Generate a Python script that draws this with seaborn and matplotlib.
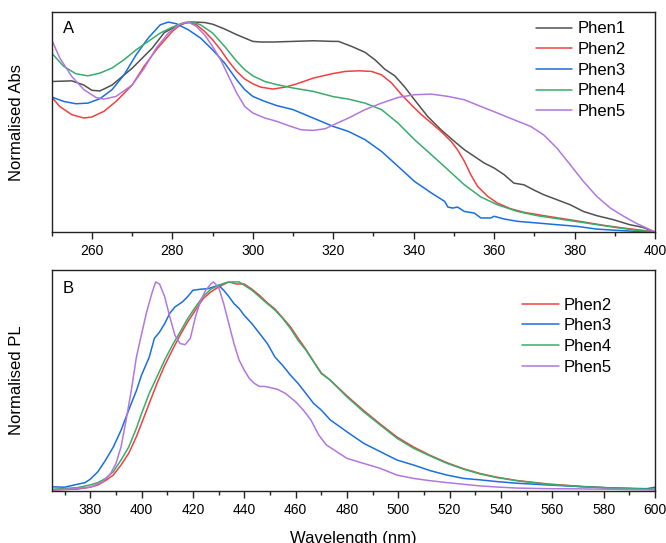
import numpy as np
import pandas as pd
import matplotlib
matplotlib.use("Agg")
import matplotlib.pyplot as plt
import seaborn as sns
from matplotlib.ticker import MultipleLocator

sns.set_style("ticks")
plt.rcParams['font.family'] = ['Liberation Sans', 'DejaVu Sans']

# --- absorption (top panel) ---
abs_wl1 = [250, 255, 258, 260, 262, 265, 270, 275, 278, 280, 283, 285, 288, 290, 293, 296, 299, 300,
           302, 305, 310, 315, 320, 321.3, 324.6, 327.9, 330.4, 332.8, 335.3, 337.8, 340.2, 343.5,
           346.8, 350.1, 352.6, 355.1, 357.5, 360, 362.5, 364.9, 367.4, 369.9, 372.3, 375.6, 378.9,
           382.2, 385.5, 389.6, 393.7, 397, 400]
abs_phen1 = [0.717, 0.72, 0.70, 0.675, 0.672, 0.70, 0.78, 0.876, 0.95, 0.97, 0.995, 1.0, 0.998, 0.99,
             0.967, 0.94, 0.916, 0.908, 0.905, 0.905, 0.908, 0.911, 0.908, 0.908, 0.884, 0.856, 0.82,
             0.776, 0.744, 0.69, 0.63, 0.55, 0.487, 0.432, 0.392, 0.36, 0.329, 0.305, 0.273, 0.233,
             0.225, 0.2, 0.178, 0.154, 0.13, 0.098, 0.078, 0.059, 0.035, 0.022, 0.0]

abs_wl2 = [250, 252, 255, 258, 260, 263, 266, 270, 273, 276, 280, 282, 284, 286, 288, 290, 292, 294,
           296, 298, 300, 302, 305, 308, 311, 315, 320, 323, 326.3, 329.5, 332, 334.5, 337, 339.4,
           341.9, 344.4, 346.8, 349.3, 350.9, 352.6, 354.2, 355.9, 358.4, 360.8, 364.1, 367.4, 372.3,
           377.3, 382.2, 387.2, 392.1, 397, 400]
abs_phen2 = [0.643, 0.598, 0.559, 0.543, 0.548, 0.575, 0.622, 0.70, 0.79, 0.868, 0.956, 0.987, 1.0,
             0.987, 0.956, 0.916, 0.868, 0.813, 0.765, 0.729, 0.706, 0.69, 0.681, 0.69, 0.706, 0.733,
             0.755, 0.765, 0.768, 0.765, 0.749, 0.71, 0.654, 0.606, 0.559, 0.519, 0.479, 0.432, 0.392,
             0.337, 0.273, 0.217, 0.17, 0.138, 0.111, 0.094, 0.078, 0.063, 0.048, 0.032, 0.019,
             0.008, 0.0]

abs_wl3 = [250, 253, 256, 259, 262, 265, 268, 271, 274, 277, 279, 281, 284, 287, 290, 293, 296, 298,
           300, 303, 306, 310, 313, 316, 320, 323.8, 327.9, 332, 336.1, 340.2, 344.4, 347.7, 348.5,
           349.7, 350.9, 352.6, 355.1, 356.7, 359.2, 360, 362.5, 365.8, 370.7, 375.6, 380.6, 385.5,
           390.5, 395.5, 400]
abs_phen3 = [0.643, 0.622, 0.611, 0.614, 0.635, 0.678, 0.749, 0.844, 0.924, 0.987, 1.0, 0.992, 0.963,
             0.924, 0.868, 0.805, 0.725, 0.678, 0.646, 0.622, 0.602, 0.583, 0.559, 0.535, 0.503,
             0.479, 0.44, 0.384, 0.313, 0.241, 0.186, 0.146, 0.119, 0.114, 0.119, 0.098, 0.09,
             0.067, 0.067, 0.075, 0.062, 0.051, 0.043, 0.035, 0.027, 0.014, 0.008, 0.003, 0.0]

abs_wl4 = [250, 253, 256, 259, 262, 265, 268, 271, 274, 277, 280, 283, 285, 287, 290, 293, 296, 298,
           300, 303, 306, 310, 315, 320, 323.8, 327.9, 332, 336.1, 340.2, 344.4, 348.5, 352.6, 356.7,
           360.8, 365.8, 370.7, 377.3, 383.9, 390.5, 395.5, 400]
abs_phen4 = [0.852, 0.789, 0.754, 0.744, 0.757, 0.781, 0.821, 0.868, 0.908, 0.948, 0.976, 0.998, 1.0,
             0.987, 0.948, 0.884, 0.813, 0.773, 0.744, 0.717, 0.702, 0.686, 0.67, 0.645, 0.633,
             0.614, 0.583, 0.519, 0.44, 0.368, 0.297, 0.225, 0.167, 0.13, 0.098, 0.078, 0.059, 0.04,
             0.021, 0.008, 0.0]

abs_wl5 = [250, 252, 255, 258, 261, 263, 266, 270, 273, 276, 279, 282, 284, 286, 288, 290, 292, 294,
           296, 298, 300, 303, 306, 309, 312, 315, 318, 320, 323.8, 327.9, 332, 336.1, 340.2, 344.4,
           348.5, 352.6, 356.7, 360.8, 364.9, 369.1, 372.3, 375.6, 378.9, 382.2, 385.5, 388.9, 392.2,
           395.5, 398.8, 400]
abs_phen5 = [0.916, 0.829, 0.741, 0.678, 0.641, 0.633, 0.646, 0.70, 0.78, 0.876, 0.948, 0.992, 1.0,
             0.979, 0.94, 0.884, 0.821, 0.741, 0.662, 0.598, 0.567, 0.543, 0.527, 0.506, 0.487,
             0.484, 0.492, 0.51, 0.543, 0.583, 0.614, 0.641, 0.654, 0.657, 0.646, 0.63, 0.598, 0.567,
             0.535, 0.503, 0.463, 0.40, 0.321, 0.241, 0.17, 0.114, 0.075, 0.04, 0.011, 0.0]

# --- photoluminescence (bottom panel) ---
pl_wl2 = [365, 375, 380, 383, 386, 389, 392, 395, 398, 400, 403, 406, 409, 412, 415, 418, 421, 424,
          427, 430, 434, 437, 440, 443, 446, 449, 452, 455, 458, 461, 464, 467, 470, 473.5, 480,
          486.5, 493, 499.5, 506, 512.5, 519, 525.5, 532, 538.4, 546.2, 557.9, 570.9, 583.9, 600]
pl_phen2 = [0.005, 0.009, 0.018, 0.029, 0.05, 0.076, 0.124, 0.18, 0.26, 0.323, 0.419, 0.514, 0.60,
            0.674, 0.745, 0.809, 0.865, 0.92, 0.952, 0.976, 1.0, 0.99, 0.99, 0.965, 0.935, 0.9,
            0.87, 0.828, 0.785, 0.73, 0.678, 0.62, 0.565, 0.53, 0.455, 0.385, 0.32, 0.258, 0.21,
            0.17, 0.135, 0.106, 0.083, 0.066, 0.05, 0.034, 0.022, 0.014, 0.008]

pl_wl3 = [365, 370, 375, 378, 380, 383, 386, 389, 392, 395, 398, 400, 403, 405, 407, 409, 411, 413,
          416, 418, 420, 423, 426, 428, 430, 432, 434, 436, 438, 440, 443, 446, 449, 452, 455, 458,
          461, 464, 467, 470, 473.5, 480, 486.5, 493, 499.5, 506, 512.5, 519, 525.5, 532, 538.4,
          546.2, 557.9, 570.9, 583.9, 596.8, 600]
pl_phen3 = [0.02, 0.018, 0.032, 0.04, 0.056, 0.092, 0.148, 0.21, 0.29, 0.387, 0.48, 0.554, 0.64,
            0.73, 0.76, 0.80, 0.85, 0.88, 0.905, 0.93, 0.96, 0.965, 0.968, 0.976, 0.984, 0.96,
            0.93, 0.896, 0.873, 0.84, 0.80, 0.753, 0.705, 0.64, 0.60, 0.554, 0.514, 0.467, 0.419,
            0.387, 0.34, 0.283, 0.228, 0.188, 0.148, 0.124, 0.097, 0.076, 0.06, 0.053, 0.045,
            0.037, 0.029, 0.021, 0.014, 0.011, 0.018]

pl_wl4 = [365, 375, 380, 383, 386, 389, 392, 395, 398, 400, 403, 406, 409, 412, 415, 418, 421, 424,
          427, 430, 433, 436, 438, 440, 443, 446, 449, 452, 455, 458, 461, 464, 467, 470, 473.5,
          480, 486.5, 493, 499.5, 506, 512.5, 519, 525.5, 532, 538.4, 546.2, 557.9, 570.9, 583.9, 600]
pl_phen4 = [0.008, 0.016, 0.029, 0.04, 0.06, 0.092, 0.148, 0.21, 0.30, 0.37, 0.467, 0.546, 0.626,
            0.697, 0.76, 0.825, 0.88, 0.93, 0.965, 0.984, 0.997, 1.0, 1.0, 0.984, 0.96, 0.928,
            0.896, 0.865, 0.825, 0.777, 0.72, 0.674, 0.618, 0.562, 0.53, 0.45, 0.379, 0.315,
            0.252, 0.204, 0.167, 0.132, 0.104, 0.081, 0.064, 0.049, 0.032, 0.021, 0.013, 0.008]

pl_wl5 = [365, 370, 380, 385, 388, 390, 392, 394, 396, 398, 400, 402, 404, 405.5, 407, 409, 411, 413,
          415, 417, 419, 421, 423, 425, 427, 428, 430, 432, 434, 436, 438, 440, 442, 444, 446, 448,
          450, 453, 456, 460, 463, 466, 469, 472, 475, 480, 486.5, 493, 499.5, 506, 512.5, 519,
          525.5, 532, 538.4, 546.2, 557.9, 570.9, 583.9, 600]
pl_phen5 = [0.005, 0.008, 0.018, 0.045, 0.084, 0.13, 0.21, 0.34, 0.48, 0.64, 0.75, 0.857, 0.944, 1.0,
            0.99, 0.93, 0.833, 0.745, 0.705, 0.70, 0.73, 0.833, 0.91, 0.96, 0.99, 1.0, 0.975, 0.896,
            0.80, 0.705, 0.626, 0.578, 0.538, 0.514, 0.50, 0.50, 0.495, 0.486, 0.467, 0.427, 0.387,
            0.339, 0.268, 0.22, 0.196, 0.156, 0.132, 0.108, 0.076, 0.06, 0.049, 0.04, 0.032, 0.024,
            0.019, 0.014, 0.011, 0.01, 0.008, 0.005]

names = ["Phen1", "Phen2", "Phen3", "Phen4", "Phen5"]
colors = {"Phen1": "#515151", "Phen2": "#F14040", "Phen3": "#1A6FDF",
          "Phen4": "#37AD6B", "Phen5": "#B177DE"}

abs_series = [(abs_wl1, abs_phen1), (abs_wl2, abs_phen2), (abs_wl3, abs_phen3),
              (abs_wl4, abs_phen4), (abs_wl5, abs_phen5)]
pl_series = [(pl_wl2, pl_phen2), (pl_wl3, pl_phen3), (pl_wl4, pl_phen4), (pl_wl5, pl_phen5)]

fig = plt.figure(figsize=(6.66, 5.43), dpi=100)
ax1 = fig.add_axes([0.0776, 0.5727, 0.9059, 0.4052])
ax2 = fig.add_axes([0.0776, 0.0958, 0.9059, 0.4070])

for name, (wl, val) in zip(names, abs_series):
    df = pd.DataFrame({"wl": wl, "val": val})
    sns.lineplot(data=df, x="wl", y="val", ax=ax1, color=colors[name], lw=1.1,
                 label=name, sort=False)

for name, (wl, val) in zip(names[1:], pl_series):
    df = pd.DataFrame({"wl": wl, "val": val})
    sns.lineplot(data=df, x="wl", y="val", ax=ax2, color=colors[name], lw=1.1,
                 label=name, sort=False)

ax1.set_xlim(250, 400)
ax1.set_ylim(0, 1.048)
ax2.set_xlim(365, 600)
ax2.set_ylim(0, 1.057)

for ax in (ax1, ax2):
    ax.xaxis.set_major_locator(MultipleLocator(20))
    ax.xaxis.set_minor_locator(MultipleLocator(10))
    ax.tick_params(axis="x", which="major", length=5, width=1, labelsize=10,
                   direction="out", labelcolor="black", color="#222222")
    ax.tick_params(axis="x", which="minor", length=3, width=1, direction="out", color="#222222")
    ax.set_yticks([])
    for s in ax.spines.values():
        s.set_linewidth(1.0)
        s.set_color("#222222")
    ax.set_xlabel("")

ax1.xaxis.set_major_locator(plt.FixedLocator([260, 280, 300, 320, 340, 360, 380, 400]))

ax1.set_ylabel("Normalised Abs", fontsize=12, labelpad=20, color="black")
ax2.set_ylabel("Normalised PL", fontsize=12, labelpad=20, color="black")
ax2.set_xlabel("Wavelength (nm)", fontsize=12, labelpad=10, color="black")

ax1.text(0.018, 0.96, "A", transform=ax1.transAxes, fontsize=12, va="top", ha="left",
         color="black")
ax2.text(0.018, 0.95, "B", transform=ax2.transAxes, fontsize=12, va="top", ha="left",
         color="black")

leg_kw = dict(loc="upper right", frameon=False, fontsize=12, handlelength=2.2,
              handletextpad=0.3, labelspacing=0.34, borderaxespad=0.2, labelcolor="black")
ax1.legend(bbox_to_anchor=(0.968, 1.003), **leg_kw)
ax2.legend(bbox_to_anchor=(0.945, 0.92), **leg_kw)

fig.savefig("out.png", dpi=100)
